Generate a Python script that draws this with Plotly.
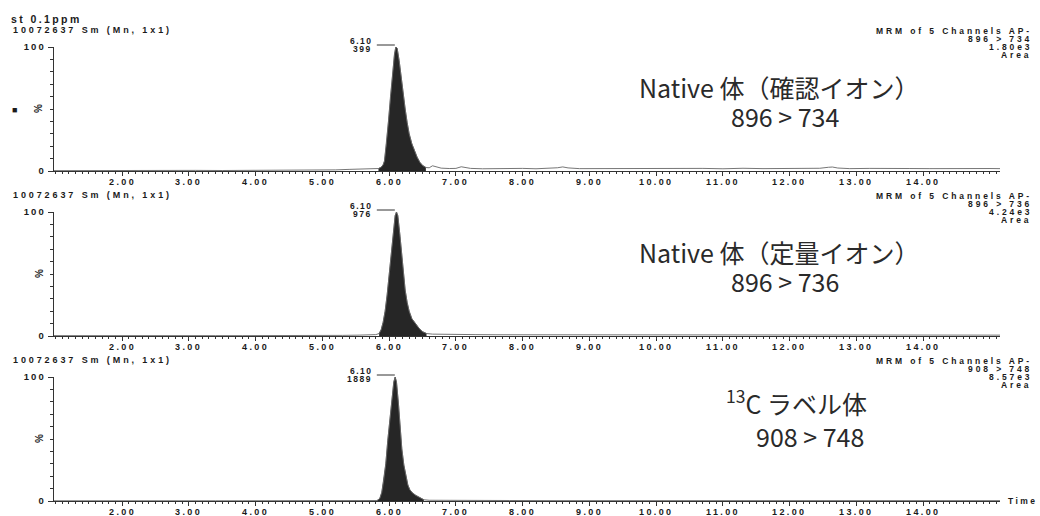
import plotly.graph_objects as go

# ---------------- data ----------------
# panel 1 : 896 > 734 (Native, qualifier)
t1 = [
    0.98, 1.30, 1.70, 2.10, 2.50, 2.85, 2.95, 3.10, 3.50, 3.90,
    4.30, 4.70, 5.00, 5.20, 5.40, 5.60, 5.75, 5.84, 5.88, 5.91,
    5.93, 5.96, 5.99, 6.02, 6.05, 6.08, 6.10, 6.12, 6.15, 6.18,
    6.21, 6.24, 6.27, 6.30, 6.34, 6.38, 6.42, 6.46, 6.50, 6.55,
    6.60, 6.65, 6.70, 6.78, 6.90, 7.00, 7.08, 7.14, 7.22, 7.40,
    7.60, 7.80, 8.00, 8.20, 8.40, 8.52, 8.60, 8.68, 8.85, 9.10,
    9.40, 9.70, 10.00, 10.20, 10.40, 10.70, 11.00, 11.30, 11.60, 11.90,
    12.20, 12.45, 12.58, 12.64, 12.72, 12.90, 13.20, 13.50, 13.80, 14.10,
    14.40, 14.70, 15.00, 15.15]
y1 = [
    0.3, 0.4, 0.3, 0.5, 0.4, 0.6, 1.0, 0.5, 0.4, 0.5,
    0.4, 0.6, 0.7, 0.9, 1.3, 1.5, 1.6, 2.0, 3.0, 5.0,
    8.0, 22, 40, 60, 79, 94, 100, 99, 89, 75,
    62, 50, 39, 30, 22, 16, 11, 7.0, 4.5, 2.8,
    2.6, 4.2, 3.6, 2.3, 2.0, 2.1, 3.4, 3.0, 2.1, 1.8,
    2.0, 1.7, 2.1, 1.8, 2.0, 2.6, 3.3, 2.5, 1.9, 2.0,
    1.7, 2.0, 1.8, 2.3, 1.9, 2.1, 1.8, 2.2, 1.9, 2.0,
    1.8, 2.2, 3.0, 3.2, 2.4, 1.9, 2.1, 1.8, 2.0, 1.9,
    2.1, 1.8, 2.0, 1.9]

# panel 2 : 896 > 736 (Native, quantifier)
t2 = [
    0.98, 1.40, 1.80, 2.20, 2.60, 3.00, 3.40, 3.80, 4.20, 4.60,
    5.00, 5.30, 5.55, 5.70, 5.80, 5.85, 5.88, 5.91, 5.94, 5.97,
    6.00, 6.03, 6.06, 6.09, 6.11, 6.13, 6.16, 6.19, 6.21, 6.24,
    6.27, 6.30, 6.34, 6.38, 6.41, 6.45, 6.50, 6.56, 6.65, 6.80,
    7.00, 7.30, 7.60, 8.00, 8.40, 8.80, 9.20, 9.60, 10.00, 10.50,
    11.00, 11.50, 12.00, 12.50, 13.00, 13.50, 14.00, 14.50, 14.85, 15.00,
    15.15]
y2 = [
    0.3, 0.2, 0.3, 0.2, 0.3, 0.2, 0.3, 0.3, 0.2, 0.3,
    0.4, 0.5, 0.7, 0.9, 1.1, 2.0, 5.0, 11, 20, 33,
    50, 68, 85, 97, 100, 97, 82, 64, 50, 37,
    27, 20, 14, 11, 9.0, 6.0, 3.5, 2.0, 1.5, 1.3,
    1.2, 1.1, 1.0, 1.0, 0.9, 0.9, 0.8, 0.8, 0.7, 0.7,
    0.7, 0.6, 0.6, 0.6, 0.5, 0.5, 0.6, 0.5, 0.8, 1.0,
    0.7]

# panel 3 : 908 > 748 (13C labelled)
t3 = [
    0.98, 1.40, 1.80, 2.20, 2.60, 3.00, 3.40, 3.80, 4.20, 4.60,
    5.00, 5.40, 5.70, 5.82, 5.86, 5.89, 5.92, 5.95, 5.98, 6.01,
    6.04, 6.07, 6.09, 6.11, 6.14, 6.16, 6.19, 6.22, 6.25, 6.28,
    6.31, 6.35, 6.40, 6.46, 6.52, 6.60, 6.80, 7.20, 7.80, 8.50,
    9.20, 10.00, 11.00, 12.00, 13.00, 14.00, 15.15]
y3 = [
    0.2, 0.3, 0.2, 0.3, 0.2, 0.3, 0.2, 0.2, 0.3, 0.3,
    0.3, 0.3, 0.3, 0.4, 2.0, 7.0, 17, 30, 49, 66,
    84, 96, 100, 96, 78, 62, 42, 29, 20, 13,
    9.0, 6.5, 4.5, 2.5, 1.0, 0.6, 0.5, 0.4, 0.4, 0.3,
    0.3, 0.3, 0.3, 0.3, 0.3, 0.3, 0.3]

integration_windows = [(5.84, 6.55), (5.82, 6.56), (5.82, 6.52)]
peak_times = [6.10, 6.10, 6.10]
peak_heights = ["399", "976", "1889"]
channels = ["896 > 734", "896 > 736", "908 > 748"]
areas = ["1.80e3", "4.24e3", "8.57e3"]
titles = ["Native 体（確認イオン）", "Native 体（定量イオン）", "<sup>13</sup>C ラベル体"]
sample_name = "st 0.1ppm"
header_left = "10072637 Sm (Mn, 1x1)"
header_right = "MRM of 5 Channels AP-"
x_ticks = [2, 3, 4, 5, 6, 7, 8, 9, 10, 11, 12, 13, 14]
y_ticks = [0, 100]
y_ticktext = ["0", "100"]

# ---------------- layout geometry ----------------
W, H = 1040, 516
X0_PX, X1_PX = 54, 1000
PANEL_PX = [(47, 171), (212, 336), (377, 501)]   # (pixel of 100 %, pixel of 0 %)
X_RANGE = [0.98, 15.15]
PX_PER_MIN = (X1_PX - X0_PX) / (X_RANGE[1] - X_RANGE[0])

AX = "#333333"
TXT = "#1a1a1a"
SMALL = "Liberation Sans, Arial, sans-serif"
BIG = "Noto Sans CJK JP, sans-serif"


def px_x(px):
    return px / W


def px_y(py):
    return 1 - py / H


def ls(text, spacing, bold=True):
    s = f'<span style="letter-spacing:{spacing}px">{text}</span>'
    return f"<b>{s}</b>" if bold else s


fig = go.Figure()
series = [(t1, y1), (t2, y2), (t3, y3)]
for i, (t, y) in enumerate(series):
    xa = "x" if i == 0 else f"x{i + 1}"
    ya = "y" if i == 0 else f"y{i + 1}"
    lo, hi = integration_windows[i]
    tf = [a for a in t if lo <= a <= hi]
    yf = [b for a, b in zip(t, y) if lo <= a <= hi]
    fig.add_trace(go.Scatter(x=tf, y=yf, mode="lines", fill="tozeroy",
                             fillcolor="#262626", line=dict(width=0.6, color="#262626"),
                             xaxis=xa, yaxis=ya, showlegend=False, hoverinfo="skip"))
    fig.add_trace(go.Scatter(x=t, y=y, mode="lines",
                             line=dict(width=0.9, color="#666666"),
                             xaxis=xa, yaxis=ya, showlegend=False))

layout = dict(
    width=W, height=H,
    margin=dict(l=0, r=0, t=0, b=0),
    paper_bgcolor="white", plot_bgcolor="white",
    showlegend=False,
)

annotations = []
shapes = []


def add_text(x, y, text, size=9, xanchor="left", yanchor="middle", family=SMALL,
             color=TXT, textangle=0):
    annotations.append(dict(x=px_x(x), y=px_y(y), xref="paper", yref="paper",
                            text=text, showarrow=False, xanchor=xanchor, yanchor=yanchor,
                            font=dict(family=family, size=size, color=color),
                            textangle=textangle))


for i in range(3):
    top, bot = PANEL_PX[i]
    xa = "x" if i == 0 else f"x{i + 1}"
    ya = "y" if i == 0 else f"y{i + 1}"
    xkey = "xaxis" if i == 0 else f"xaxis{i + 1}"
    ykey = "yaxis" if i == 0 else f"yaxis{i + 1}"
    layout[xkey] = dict(
        domain=[px_x(X0_PX), px_x(X1_PX)], range=X_RANGE, anchor=ya,
        showline=True, linecolor=AX, linewidth=1, showgrid=False, zeroline=False,
        ticks="outside", ticklen=4, tickwidth=1, tickcolor=AX,
        tickmode="array", tickvals=x_ticks, showticklabels=False,
        minor=dict(ticks="outside", ticklen=2, tickmode="linear", tick0=0, dtick=0.1,
                   tickcolor=AX, tickwidth=1, showgrid=False),
        fixedrange=True, automargin=False,
    )
    layout[ykey] = dict(
        domain=[px_y(bot), px_y(top)], range=[0, 100], anchor=xa,
        showline=True, linecolor=AX, linewidth=1, showgrid=False, zeroline=False,
        ticks="outside", ticklen=5, tickwidth=1, tickcolor=AX,
        tickmode="array", tickvals=y_ticks,
        ticktext=[ls(s, 2.2) for s in y_ticktext],
        tickfont=dict(family=SMALL, size=9.5, color=TXT),
        minor=dict(ticks="outside", ticklen=3, tickmode="linear", tick0=0, dtick=10,
                   tickcolor=AX, tickwidth=1, showgrid=False),
        fixedrange=True, automargin=False,
    )

    # x tick labels
    for v in x_ticks:
        annotations.append(dict(x=v, y=px_y(bot + 11), xref=xa, yref="paper",
                                text=ls(f"{v:.2f}", 2.4), showarrow=False,
                                xanchor="center", yanchor="middle",
                                font=dict(family=SMALL, size=9, color=TXT)))

    # left header
    add_text(11, top - 17, ls(header_left, 2.9), size=9)
    # right header block
    for k, line in enumerate([header_right, channels[i], areas[i], "Area"]):
        add_text(1034, top - 16 + 8 * k, ls(line, 2.9), size=8.5, xanchor="right")
    # % label
    add_text(39, top + 62, "<b>%</b>", size=10, xanchor="center", textangle=-90)

    # peak label
    pt = peak_times[i]
    annotations.append(dict(x=pt, y=100, xref=xa, yref=ya, xanchor="right", yanchor="middle",
                            xshift=-21, yshift=6, showarrow=False,
                            text=ls(f"{pt:.2f}", 1.5),
                            font=dict(family=SMALL, size=8.5, color=TXT)))
    annotations.append(dict(x=pt, y=100, xref=xa, yref=ya, xanchor="right", yanchor="middle",
                            xshift=-22, yshift=-2, showarrow=False,
                            text=ls(peak_heights[i], 1.5),
                            font=dict(family=SMALL, size=8.5, color=TXT)))
    shapes.append(dict(type="line", xref=xa, yref="paper",
                       x0=pt - 19 / PX_PER_MIN, x1=pt - 1 / PX_PER_MIN,
                       y0=px_y(top - 2), y1=px_y(top - 2),
                       line=dict(color=AX, width=1)))

# sample name
add_text(9, 19, ls(sample_name, 2.4), size=10.5)
# small mark
add_text(14, 110, "■", size=9, xanchor="center")
# Time label
add_text(1006, 501, ls("Time", 2.4), size=8.5)

# big annotations
big_pos = [((779, 87), (785, 116)), ((779, 252), (785, 281)), ((796, 402), (810, 436))]
for i in range(3):
    (tx, ty), (cx, cy) = big_pos[i]
    add_text(tx, ty, titles[i], size=25, xanchor="center", family=BIG, color="#2a2a2a")
    add_text(cx, cy, channels[i], size=25, xanchor="center", family=BIG, color="#2a2a2a")

layout["annotations"] = annotations
layout["shapes"] = shapes
fig.update_layout(**layout)
fig.write_html("out.html", config={"displayModeBar": False},
               post_script="document.body.style.margin='0px';")
